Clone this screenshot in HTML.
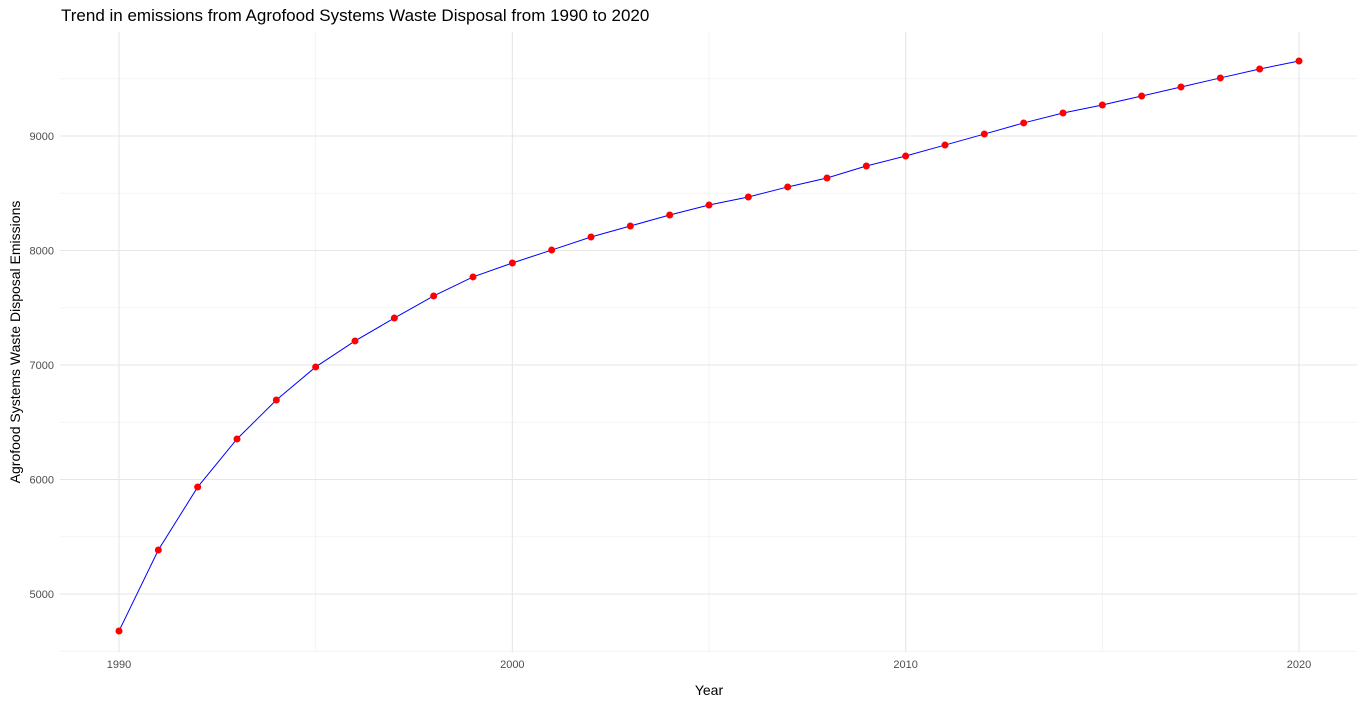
<!DOCTYPE html>
<html><head><meta charset="utf-8"><style>
body{margin:0;background:#fff;font-family:"Liberation Sans",sans-serif;}
svg{display:block}
</style></head><body>
<svg id="chart" width="1366" height="705">
<text x="61" y="21" font-size="17" fill="#000">Trend in emissions from Agrofood Systems Waste Disposal from 1990 to 2020</text>
<g id="grid"></g><g id="axes"></g><g id="marks"></g>
<text x="709" y="695" font-size="14" text-anchor="middle" fill="#000">Year</text>
<text transform="translate(20,342) rotate(-90)" font-size="14" text-anchor="middle" fill="#000">Agrofood Systems Waste Disposal Emissions</text>
</svg>
<script>
const years=[1990,1991,1992,1993,1994,1995,1996,1997,1998,1999,2000,2001,2002,2003,2004,2005,2006,2007,2008,2009,2010,2011,2012,2013,2014,2015,2016,2017,2018,2019,2020];
const emissions=[4677,5384,5934,6354,6694,6983,7210,7410,7603,7769,7891,8004,8118,8214,8310,8397,8467,8555,8633,8738,8825,8921,9017,9114,9201,9271,9349,9428,9507,9585,9655];
const xTicks=[1990,2000,2010,2020];
const xMinor=[1995,2005,2015];
const yTicks=[5000,6000,7000,8000,9000];
const yMinor=[4500,5500,6500,7500,8500,9500];
const NS="http://www.w3.org/2000/svg";
const L=60,R=1357,T=32,B=652;
function xs(v){return 119+(v-1990)*(1299-119)/30;}
function ys(v){return 594-(v-5000)*(594-136)/4000;}
function mk(tag,attrs,parent){const e=document.createElementNS(NS,tag);for(const k in attrs)e.setAttribute(k,attrs[k]);parent.appendChild(e);return e;}
const grid=document.getElementById('grid'),axes=document.getElementById('axes'),marks=document.getElementById('marks');
yMinor.forEach(v=>{const e=mk('line',{x1:L,x2:R,y1:ys(v),y2:ys(v),stroke:'#f0f0f0','stroke-width':0.8},grid);

});
xMinor.forEach(v=>{const e=mk('line',{x1:xs(v),x2:xs(v),y1:T,y2:B,stroke:'#f0f0f0','stroke-width':0.8},grid);

});
yTicks.forEach(v=>{const e=mk('line',{x1:L,x2:R,y1:ys(v),y2:ys(v),stroke:'#e6e6e6','stroke-width':1.1},grid);


const t=mk('text',{x:54,y:ys(v)+4,'font-size':11,'text-anchor':'end',fill:'#4d4d4d'},axes);t.textContent=v;

});
xTicks.forEach(v=>{const e=mk('line',{x1:xs(v),x2:xs(v),y1:T,y2:B,stroke:'#e6e6e6','stroke-width':1.1},grid);


const t=mk('text',{x:xs(v),y:668,'font-size':11,'text-anchor':'middle',fill:'#4d4d4d'},axes);t.textContent=v;

});
const line=mk('polyline',{points:years.map((y,i)=>xs(y)+','+ys(emissions[i])).join(' '),fill:'none',stroke:'#0000ff','stroke-width':1},marks);


years.forEach((y,i)=>{const c=mk('circle',{cx:xs(y),cy:ys(emissions[i]),r:3.5,fill:'#ff0000'},marks);

});
</script>
</body></html>
